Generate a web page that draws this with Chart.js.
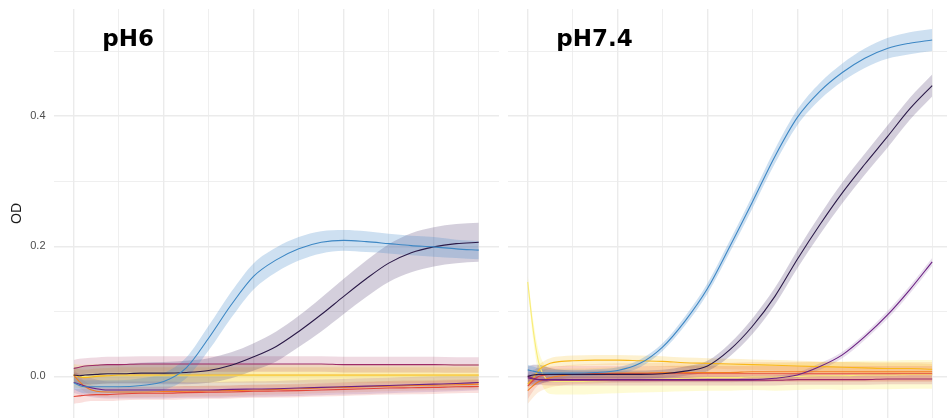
<!DOCTYPE html>
<html>
<head>
<meta charset="utf-8">
<script src="https://cdn.jsdelivr.net/npm/chart.js@4.4.1/dist/chart.umd.min.js"></script>
<style>
  html, body { margin: 0; padding: 0; background: #ffffff; overflow: hidden; }
  #wrap { position: relative; width: 947px; height: 418px; overflow: hidden; }
  #c1 { position: absolute; left: 0; top: 0; }
  #c2 { position: absolute; left: 499px; top: 0; }
</style>
</head>
<body>
<div id="wrap">
  <canvas id="c1" width="500" height="418"></canvas>
  <canvas id="c2" width="460" height="418"></canvas>
</div>
<script>
// Sampling times (hours)
const TIME_H = [0, 0.25, 0.5, 1, 1.5, 2, 3, 4, 5, 6, 7, 8, 9, 10, 11, 12, 13, 14, 15, 16, 17, 18];

// Grid / tick positions
const X_GRID = [0, 2, 4, 6, 8, 10, 12, 14, 16, 18];
const X_MAJOR = [0, 4, 8, 12, 16];
const Y_GRID = [0, 0.1, 0.2, 0.3, 0.4, 0.5];
const Y_LABELED = [0, 0.2, 0.4];

// Panel titles
const PANEL_TITLES = ['pH6', 'pH7.4'];

// ---- pH6: mean OD and spread ----
const ph6Blue      = [-0.010, -0.014, -0.016, -0.016, -0.016, -0.016, -0.014, -0.008, 0.013, 0.059, 0.110, 0.154, 0.179, 0.196, 0.206, 0.209, 0.207, 0.204, 0.201, 0.199, 0.196, 0.194];
const ph6BlueSd    = [0.010, 0.010, 0.010, 0.010, 0.010, 0.010, 0.011, 0.013, 0.016, 0.019, 0.020, 0.020, 0.019, 0.018, 0.017, 0.016, 0.016, 0.015, 0.015, 0.015, 0.014, 0.014];
const ph6Navy      = [0.002, 0.001, 0.002, 0.003, 0.004, 0.004, 0.005, 0.005, 0.006, 0.009, 0.017, 0.030, 0.046, 0.069, 0.095, 0.123, 0.150, 0.174, 0.190, 0.199, 0.204, 0.206];
const ph6NavySd    = [0.012, 0.013, 0.014, 0.015, 0.015, 0.015, 0.016, 0.017, 0.018, 0.019, 0.020, 0.021, 0.023, 0.024, 0.026, 0.027, 0.028, 0.029, 0.030, 0.030, 0.030, 0.030];
const ph6Purple    = [-0.0095, -0.012, -0.015, -0.019, -0.021, -0.021, -0.021, -0.021, -0.021, -0.021, -0.020, -0.0195, -0.019, -0.018, -0.017, -0.016, -0.015, -0.014, -0.013, -0.012, -0.011, -0.0095];
const ph6PurpleSd  = [0.016, 0.016, 0.015, 0.014, 0.013, 0.013, 0.013, 0.013, 0.012, 0.012, 0.012, 0.012, 0.012, 0.012, 0.012, 0.012, 0.012, 0.012, 0.012, 0.012, 0.012, 0.012];
const ph6Magenta   = [0.012, 0.014, 0.016, 0.017, 0.018, 0.018, 0.019, 0.019, 0.019, 0.019, 0.019, 0.019, 0.019, 0.019, 0.019, 0.018, 0.018, 0.018, 0.018, 0.018, 0.0175, 0.0175];
const ph6MagentaSd = [0.013, 0.013, 0.012, 0.012, 0.012, 0.012, 0.012, 0.012, 0.012, 0.012, 0.012, 0.012, 0.012, 0.012, 0.012, 0.012, 0.012, 0.012, 0.012, 0.012, 0.012, 0.012];
const ph6Red       = [-0.031, -0.030, -0.029, -0.028, -0.028, -0.027, -0.026, -0.026, -0.025, -0.0245, -0.024, -0.023, -0.0225, -0.022, -0.021, -0.020, -0.019, -0.018, -0.0175, -0.017, -0.016, -0.0157];
const ph6RedSd     = [0.011, 0.011, 0.010, 0.010, 0.010, 0.010, 0.010, 0.010, 0.010, 0.010, 0.010, 0.010, 0.010, 0.010, 0.010, 0.010, 0.010, 0.010, 0.010, 0.010, 0.010, 0.010];
const ph6Orange    = [0.002, -0.008, -0.016, -0.023, -0.024, -0.024, -0.024, -0.0235, -0.023, -0.0225, -0.022, -0.021, -0.020, -0.019, -0.018, -0.017, -0.016, -0.015, -0.014, -0.0135, -0.013, -0.012];
const ph6OrangeSd  = [0.010, 0.009, 0.008, 0.008, 0.008, 0.008, 0.008, 0.008, 0.008, 0.008, 0.008, 0.008, 0.008, 0.008, 0.008, 0.008, 0.008, 0.008, 0.008, 0.008, 0.008, 0.008];
const ph6Gold      = [0.003, -0.001, -0.002, 0.000, 0.001, 0.002, 0.002, 0.002, 0.002, 0.002, 0.002, 0.002, 0.002, 0.002, 0.002, 0.002, 0.002, 0.002, 0.002, 0.002, 0.002, 0.002];
const ph6GoldSd    = [0.012, 0.012, 0.012, 0.012, 0.012, 0.012, 0.012, 0.012, 0.012, 0.012, 0.012, 0.012, 0.012, 0.012, 0.012, 0.012, 0.012, 0.012, 0.012, 0.012, 0.012, 0.012];
const ph6Pale      = [0.001, 0.000, 0.000, 0.001, 0.001, 0.001, 0.001, 0.001, 0.001, 0.001, 0.001, 0.001, 0.001, 0.001, 0.001, 0.001, 0.001, 0.001, 0.001, 0.001, 0.001, 0.001];
const ph6PaleSd    = [0.018, 0.018, 0.018, 0.018, 0.018, 0.018, 0.018, 0.018, 0.018, 0.018, 0.018, 0.018, 0.018, 0.018, 0.018, 0.018, 0.018, 0.018, 0.018, 0.018, 0.018, 0.018];

// ---- pH7.4: mean OD and spread ----
const ph74Blue      = [0.010, 0.008, 0.006, 0.005, 0.005, 0.005, 0.006, 0.009, 0.020, 0.045, 0.085, 0.135, 0.200, 0.268, 0.338, 0.398, 0.438, 0.467, 0.489, 0.504, 0.512, 0.517];
const ph74BlueSd    = [0.008, 0.007, 0.006, 0.005, 0.005, 0.005, 0.005, 0.005, 0.006, 0.006, 0.007, 0.008, 0.009, 0.010, 0.011, 0.012, 0.013, 0.014, 0.015, 0.016, 0.017, 0.017];
const ph74Navy      = [0.000, 0.002, 0.003, 0.003, 0.003, 0.003, 0.003, 0.003, 0.003, 0.004, 0.008, 0.016, 0.041, 0.077, 0.123, 0.180, 0.233, 0.282, 0.326, 0.368, 0.411, 0.447];
const ph74NavySd    = [0.015, 0.016, 0.015, 0.010, 0.007, 0.006, 0.006, 0.006, 0.006, 0.006, 0.007, 0.008, 0.010, 0.012, 0.013, 0.014, 0.015, 0.016, 0.016, 0.017, 0.017, 0.017];
const ph74Purple    = [-0.002, -0.004, -0.005, -0.005, -0.005, -0.005, -0.005, -0.005, -0.005, -0.005, -0.005, -0.005, -0.005, -0.005, -0.003, 0.002, 0.015, 0.033, 0.061, 0.094, 0.133, 0.176];
const ph74PurpleSd  = [0.006, 0.005, 0.004, 0.004, 0.004, 0.004, 0.004, 0.004, 0.004, 0.004, 0.004, 0.004, 0.004, 0.004, 0.004, 0.004, 0.005, 0.005, 0.005, 0.006, 0.006, 0.006];
const ph74Magenta   = [0.000, -0.003, -0.005, -0.006, -0.006, -0.006, -0.006, -0.006, -0.006, -0.006, -0.006, -0.006, -0.006, -0.006, -0.006, -0.005, -0.005, -0.005, -0.005, -0.004, -0.004, -0.004];
const ph74MagentaSd = [0.010, 0.009, 0.008, 0.008, 0.008, 0.008, 0.008, 0.008, 0.008, 0.008, 0.008, 0.008, 0.008, 0.008, 0.008, 0.008, 0.008, 0.008, 0.008, 0.008, 0.008, 0.008];
const ph74Red       = [-0.015, -0.006, 0.000, 0.003, 0.004, 0.004, 0.004, 0.004, 0.004, 0.004, 0.004, 0.004, 0.004, 0.004, 0.004, 0.004, 0.004, 0.004, 0.004, 0.004, 0.004, 0.004];
const ph74RedSd     = [0.020, 0.016, 0.013, 0.012, 0.012, 0.012, 0.012, 0.012, 0.012, 0.012, 0.012, 0.012, 0.012, 0.012, 0.012, 0.012, 0.012, 0.012, 0.012, 0.012, 0.012, 0.012];
const ph74Orange    = [-0.022, -0.014, -0.008, -0.002, 0.001, 0.003, 0.004, 0.005, 0.005, 0.006, 0.006, 0.006, 0.006, 0.007, 0.007, 0.007, 0.007, 0.007, 0.007, 0.007, 0.007, 0.007];
const ph74OrangeSd  = [0.020, 0.018, 0.016, 0.015, 0.015, 0.015, 0.015, 0.015, 0.015, 0.015, 0.015, 0.015, 0.015, 0.015, 0.015, 0.015, 0.015, 0.015, 0.015, 0.015, 0.015, 0.015];
const ph74Gold      = [-0.012, -0.002, 0.010, 0.020, 0.023, 0.024, 0.025, 0.025, 0.024, 0.023, 0.021, 0.020, 0.019, 0.018, 0.017, 0.016, 0.015, 0.014, 0.013, 0.012, 0.012, 0.011];
const ph74GoldSd    = [0.008, 0.008, 0.008, 0.008, 0.008, 0.008, 0.008, 0.008, 0.008, 0.008, 0.008, 0.008, 0.008, 0.008, 0.008, 0.008, 0.008, 0.008, 0.008, 0.008, 0.008, 0.008];
const ph74Pale      = [0.145, 0.070, 0.020, -0.007, -0.008, -0.008, -0.007, -0.006, -0.005, -0.004, -0.003, -0.002, -0.002, -0.001, -0.001, 0.000, 0.001, 0.001, 0.002, 0.002, 0.003, 0.003];
const ph74PaleSd    = [0.010, 0.015, 0.018, 0.020, 0.020, 0.020, 0.020, 0.020, 0.020, 0.020, 0.020, 0.020, 0.020, 0.020, 0.021, 0.021, 0.021, 0.022, 0.022, 0.022, 0.022, 0.022];

// Series colours: line and ribbon
const LINE_COLORS = ['#3d87c4', '#2b1a48', '#6b2183', '#9e2a68', '#e2473a', '#f27e20', '#f9b81a', '#f8ec78'];
const BAND_COLORS = [
  'rgba(80,145,205,0.28)', 'rgba(75,55,110,0.24)', 'rgba(110,50,140,0.16)', 'rgba(170,60,100,0.19)',
  'rgba(230,90,80,0.19)', 'rgba(245,140,50,0.17)', 'rgba(245,195,60,0.24)', 'rgba(252,245,150,0.40)'
];

const PH6_MEANS = [ph6Blue, ph6Navy, ph6Purple, ph6Magenta, ph6Red, ph6Orange, ph6Gold, ph6Pale];
const PH6_SDS   = [ph6BlueSd, ph6NavySd, ph6PurpleSd, ph6MagentaSd, ph6RedSd, ph6OrangeSd, ph6GoldSd, ph6PaleSd];
const PH74_MEANS = [ph74Blue, ph74Navy, ph74Purple, ph74Magenta, ph74Red, ph74Orange, ph74Gold, ph74Pale];
const PH74_SDS   = [ph74BlueSd, ph74NavySd, ph74PurpleSd, ph74MagentaSd, ph74RedSd, ph74OrangeSd, ph74GoldSd, ph74PaleSd];

// Title anchor, in data units
const TITLE_X = 1.27;
const TITLE_Y = 0.508;

function toPoints(values) {
  return TIME_H.map((t, i) => ({ x: t, y: values[i] }));
}

function buildDatasets(means, sds) {
  const lines = means.map((m, k) => ({
    data: toPoints(m),
    borderColor: LINE_COLORS[k],
    borderWidth: 1.1,
    pointRadius: 0,
    fill: false,
    cubicInterpolationMode: 'monotone'
  }));
  const bands = [];
  means.forEach((m, k) => {
    const lo = m.map((v, i) => v - sds[k][i]);
    const hi = m.map((v, i) => v + sds[k][i]);
    bands.push({
      data: toPoints(lo), borderColor: 'transparent', borderWidth: 0,
      pointRadius: 0, fill: false, cubicInterpolationMode: 'monotone'
    });
    bands.push({
      data: toPoints(hi), borderColor: 'transparent', borderWidth: 0,
      pointRadius: 0, fill: '-1', backgroundColor: BAND_COLORS[k],
      cubicInterpolationMode: 'monotone'
    });
  });
  return lines.concat(bands);
}

// Draws the bold panel title inside the plot area
const panelTitle = {
  id: 'panelTitle',
  afterDraw(chart, args, opts) {
    const { ctx, scales } = chart;
    ctx.save();
    ctx.font = 'bold 23px "DejaVu Sans"';
    ctx.fillStyle = '#000000';
    ctx.textAlign = 'left';
    ctx.textBaseline = 'alphabetic';
    ctx.fillText(opts.text, scales.x.getPixelForValue(TITLE_X), scales.y.getPixelForValue(TITLE_Y));
    ctx.restore();
  }
};

function makeOptions(title, showY, padding) {
  return {
    responsive: false,
    animation: false,
    events: [],
    devicePixelRatio: 1,
    layout: { padding: padding },
    plugins: {
      legend: { display: false },
      tooltip: { enabled: false },
      panelTitle: { text: title }
    },
    scales: {
      x: {
        type: 'linear',
        min: -0.9,
        max: 18.9,
        afterBuildTicks: a => { a.ticks = X_GRID.map(v => ({ value: v })); },
        ticks: { display: false },
        grid: {
          drawTicks: false,
          color: '#ebebeb',
          lineWidth: c => (c.tick && X_MAJOR.includes(c.tick.value)) ? 1.4 : 0.8
        },
        border: { display: false },
        afterFit: a => { a.height = 0; a.paddingLeft = 0; a.paddingRight = 0; }
      },
      y: {
        type: 'linear',
        min: -0.064,
        max: 0.5646,
        afterBuildTicks: a => { a.ticks = Y_GRID.map(v => ({ value: v })); },
        ticks: {
          display: showY,
          padding: 8,
          color: '#4d4d4d',
          font: { family: 'Liberation Sans', size: 11 },
          callback: v => Y_LABELED.includes(v) ? v.toFixed(1) : ''
        },
        grid: {
          drawTicks: false,
          color: '#ebebeb',
          lineWidth: c => (c.tick && Y_LABELED.includes(c.tick.value)) ? 1.4 : 0.8
        },
        border: { display: false },
        title: {
          display: showY,
          text: 'OD',
          color: '#1a1a1a',
          font: { family: 'Liberation Sans', size: 14 },
          padding: { top: 9, bottom: 0 }
        },
        afterFit: a => {
          a.width = showY ? 53.5 : 0;
          a.paddingTop = 0;
          a.paddingBottom = 0;
        }
      }
    }
  };
}

new Chart(document.getElementById('c1'), {
  type: 'line',
  data: { datasets: buildDatasets(PH6_MEANS, PH6_SDS) },
  options: makeOptions(PANEL_TITLES[0], true, { left: 0, right: 1, top: 9, bottom: 0 }),
  plugins: [panelTitle]
});

new Chart(document.getElementById('c2'), {
  type: 'line',
  data: { datasets: buildDatasets(PH74_MEANS, PH74_SDS) },
  options: makeOptions(PANEL_TITLES[1], false, { left: 8.5, right: 6.6, top: 9, bottom: 0 }),
  plugins: [panelTitle]
});
</script>
</body>
</html>
